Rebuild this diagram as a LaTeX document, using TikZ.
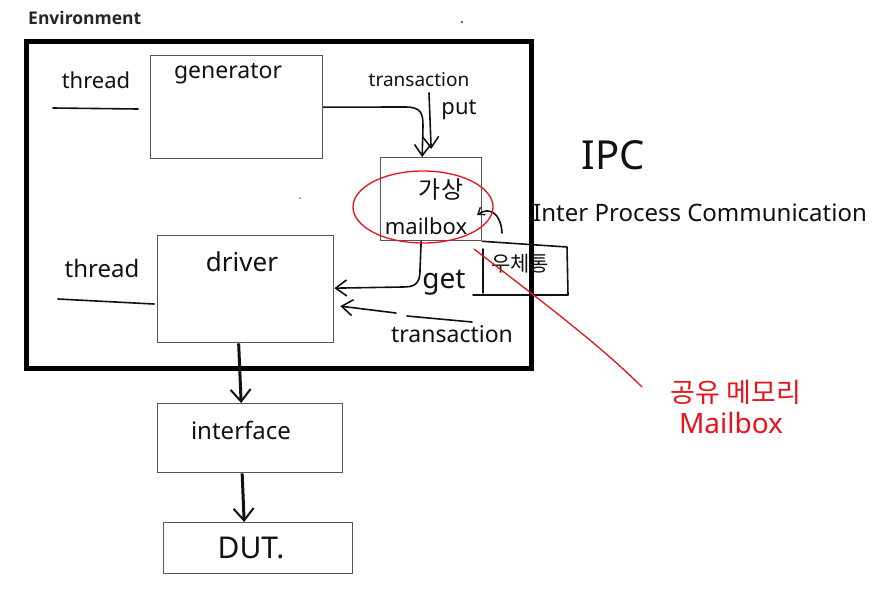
\documentclass[tikz,border=0pt]{standalone}
\usepackage{fontspec}
\setmainfont{Noto Sans}
\newfontfamily\envfont{Open Sans}
\newfontfamily\kr{Noto Sans CJK KR}
\usetikzlibrary{arrows.meta,calc}
\definecolor{boxgray}{HTML}{555555}
\definecolor{pen}{HTML}{111111}
\definecolor{redpen}{HTML}{E8141B}
\tikzset{
  box/.style={draw=boxgray, line width=1.3pt, rectangle, inner sep=0pt, anchor=north west},
  hand/.style={text=pen, inner sep=0pt},
  penline/.style={draw=pen, line width=1.6pt, line cap=round, line join=round},
  arr/.style={penline, -{Straight Barb[length=11pt,width=16pt,line width=1.6pt]}},
  thickarr/.style={draw=pen, line width=3pt, -{Straight Barb[length=12pt,width=20pt,line width=2pt]}},
  redline/.style={draw=redpen, line width=1.3pt, line cap=round},
}
\begin{document}
\begin{tikzpicture}[x=1pt,y=-1pt]
\useasboundingbox[fill=white] (0,0) rectangle (877,598);

% title
\node[anchor=west, inner sep=0pt, font=\envfont\bfseries\fontsize{17.5}{20}\selectfont, text=black!85] (envtitle) at (28,18) {Environment};
\fill[black!80] (462,22) circle (1.2);
\fill[black!60] (300,198) circle (0.8);

% environment frame
\node[draw=black, line width=5pt, minimum width=505, minimum height=327, anchor=north west, inner sep=0pt] (envbox) at (24,39) {};

% boxes
\node[box, minimum width=172, minimum height=103] (gen) at (150,55) {};
\node[box, minimum width=101, minimum height=83] (mb) at (380,157) {};
\node[box, minimum width=176, minimum height=107] (drv) at (157,235) {};
\node[box, minimum width=185, minimum height=69] (ifc) at (157,403) {};
\node[box, minimum width=189, minimum height=51] (dut) at (163,522) {};

% box texts
\node[hand, font=\fontsize{23}{26}\selectfont] (gentxt) at (228,74) {generator};
\node[hand, font=\fontsize{26}{28}\selectfont] (drvtxt) at (242,262) {driver};
\node[hand, font=\fontsize{24}{26}\selectfont] (ifctxt) at (241,430) {interface};
\node[hand, font=\fontsize{30}{32}\selectfont] (duttxt) at (251,548) {DUT.};
\node[hand, font=\kr\fontsize{24}{26}\selectfont] (mbkr) at (441,189) {가상};
\node[hand, font=\fontsize{22}{24}\selectfont] (mbtxt) at (426,226) {mailbox};

% thread labels with underlines
\node[hand, font=\fontsize{22}{24}\selectfont] (thr1) at (96,80) {thread};
\coordinate (u1a) at (53,108); \coordinate (u1b) at (138,109);
\draw[penline] (u1a) -- (u1b);
\node[hand, font=\fontsize{24}{26}\selectfont] (thr2) at (102,268) {thread};
\coordinate (u2a) at (58,299); \coordinate (u2b) at (154,304);
\draw[penline] (u2a) -- (u2b);

% generator -> mailbox (put)
\node[hand, font=\fontsize{19}{21}\selectfont] (trtop) at (419,80) {transaction};
\node[hand, font=\fontsize{22}{24}\selectfont] (puttxt) at (459,110) {put};
\draw[arr] (gen.east) -- (405,107) .. controls (421,107) and (423,113) .. (423,126) -- ([xshift=-9]mb.north);
\coordinate (putstart) at (429,93);
\draw[arr] (putstart) -- ([xshift=0,yshift=8]mb.north);

% mailbox -> driver (get)
\node[hand, font=\fontsize{28}{30}\selectfont] (gettxt) at (444,283) {get};
\draw[arr] ([xshift=-10]mb.south) -- (420,270) .. controls (420,285) and (414,287) .. (402,287) -- ([yshift=1]drv.east);
\coordinate (tr2start) at (396,313);
\draw[arr] (tr2start) -- ([xshift=6,yshift=-17]drv.east);
\coordinate (ul3a) at (407,316); \coordinate (ul3b) at (472,322);
\draw[penline] (ul3a) -- (ul3b);
\node[hand, font=\fontsize{23}{25}\selectfont] (trbot) at (452,334) {transaction};

% side box 우체통
\coordinate (sb1) at (567,247); \coordinate (sb2) at (568,295); \coordinate (sb3) at (473,295);
\coordinate (sb4) at (483,249); \coordinate (sb5) at (483,293);
\draw[penline] (mb.south east) -- (sb1) -- (sb2) -- (sb3);
\draw[penline] (sb4) -- (sb5);
\node[hand, font=\kr\fontsize{21}{23}\selectfont] (wct) at (520,264) {우체통};

% small curved arrow into mailbox
\coordinate (ca) at (502,233);
\draw[penline, -{Straight Barb[length=6pt,width=9pt,line width=1.4pt]}] (ca) .. controls (501,214) and (490,206) .. (477,215);

% red annotations
\draw[redline] (423,207) ellipse [x radius=70, y radius=36];
\node[hand, text=redpen, font=\kr\fontsize{27}{29}\selectfont] (shm) at (736,392) {공유 메모리};
\node[hand, text=redpen, font=\fontsize{28}{30}\selectfont] (redmb) at (731,423) {Mailbox};
\coordinate (rl1) at (474,249);
\coordinate (rl2) at (642,387);
\draw[redline] (rl1) .. controls (540,300) and (600,345) .. (rl2);

% IPC
\node[hand, font=\fontsize{40}{42}\selectfont] (ipc) at (613,155) {IPC};
\node[hand, font=\fontsize{24}{26}\selectfont, anchor=west] (ipcfull) at (533,213) {Inter Process Communication};

% driver -> interface -> DUT
\draw[thickarr] ([xshift=-7]drv.south) -- ([xshift=-9]ifc.north);
\draw[thickarr] ([xshift=-8]ifc.south) -- ([xshift=-14]dut.north);
\end{tikzpicture}
\end{document}
